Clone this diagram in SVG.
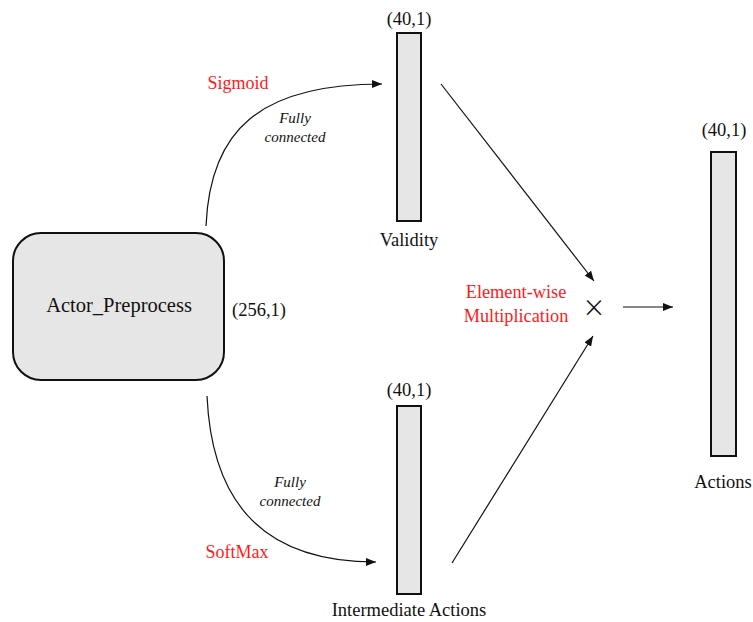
<svg xmlns="http://www.w3.org/2000/svg" width="753" height="622" viewBox="0 0 753 622">
<style>
.t{font-family:"Liberation Serif","DejaVu Serif",serif;fill:#111}
.red{fill:#ff1a1a}
.it{font-style:italic;font-size:15px}
.bar{fill:#e6e6e6;stroke:#111;stroke-width:2}
.c{fill:none;stroke:#111;stroke-width:1.2}
</style>
<defs>
<marker id="ah" viewBox="0 0 10 8" refX="10" refY="4" markerWidth="10" markerHeight="8" markerUnits="userSpaceOnUse" orient="auto">
<path d="M0,0 L10,4 L0,8 Z" fill="#111"/>
</marker>
</defs>
<rect width="753" height="622" fill="#fff"/>
<g id="actor">
<rect x="13" y="233" width="211" height="147" rx="28" fill="#e6e6e6" stroke="#111" stroke-width="2"/>
<text class="t" x="119" y="312" font-size="20.5" text-anchor="middle">Actor_Preprocess</text>
<text class="t" x="259" y="316" font-size="18.5" text-anchor="middle">(256,1)</text>
</g>
<g id="validity">
<rect class="bar" x="397" y="33" width="24" height="188"/>
<text class="t" x="409" y="25" font-size="18.5" text-anchor="middle">(40,1)</text>
<text class="t" x="409" y="246" font-size="18.5" text-anchor="middle">Validity</text>
</g>
<g id="intermediate">
<rect class="bar" x="397" y="406" width="24" height="188"/>
<text class="t" x="409" y="396" font-size="18.5" text-anchor="middle">(40,1)</text>
<text class="t" x="409" y="616" font-size="18.5" text-anchor="middle">Intermediate Actions</text>
</g>
<g id="actions">
<rect class="bar" x="711" y="152" width="25" height="304"/>
<text class="t" x="724" y="136" font-size="18.5" text-anchor="middle">(40,1)</text>
<text class="t" x="723" y="488" font-size="18.5" text-anchor="middle">Actions</text>
</g>
<g id="multiply">
<text x="594" y="320" font-family="'Open Sans','DejaVu Sans',sans-serif" font-weight="300" font-size="34" fill="#111" text-anchor="middle">×</text>
<text class="t red" x="516" y="298" font-size="18.3" text-anchor="middle">Element-wise</text>
<text class="t red" x="516" y="322" font-size="18.3" text-anchor="middle">Multiplication</text>
</g>
<g id="connectors">
<path class="c" d="M206,226 C210,130 260,84 382,84" marker-end="url(#ah)"/>
<path class="c" d="M207,396 C212,505 265,562 376,562" marker-end="url(#ah)"/>
<line class="c" x1="441" y1="84" x2="594" y2="281" marker-end="url(#ah)"/>
<line class="c" x1="452" y1="563" x2="593" y2="336" marker-end="url(#ah)"/>
<line class="c" x1="623" y1="307" x2="673" y2="307" marker-end="url(#ah)"/>
<text class="t red" x="238" y="89" font-size="18" text-anchor="middle">Sigmoid</text>
<text class="t it" x="295" y="123" text-anchor="middle">Fully</text>
<text class="t it" x="295" y="142" text-anchor="middle">connected</text>
<text class="t it" x="290" y="487" text-anchor="middle">Fully</text>
<text class="t it" x="290" y="506" text-anchor="middle">connected</text>
<text class="t red" x="237" y="558" font-size="18" text-anchor="middle">SoftMax</text>
</g>
</svg>
